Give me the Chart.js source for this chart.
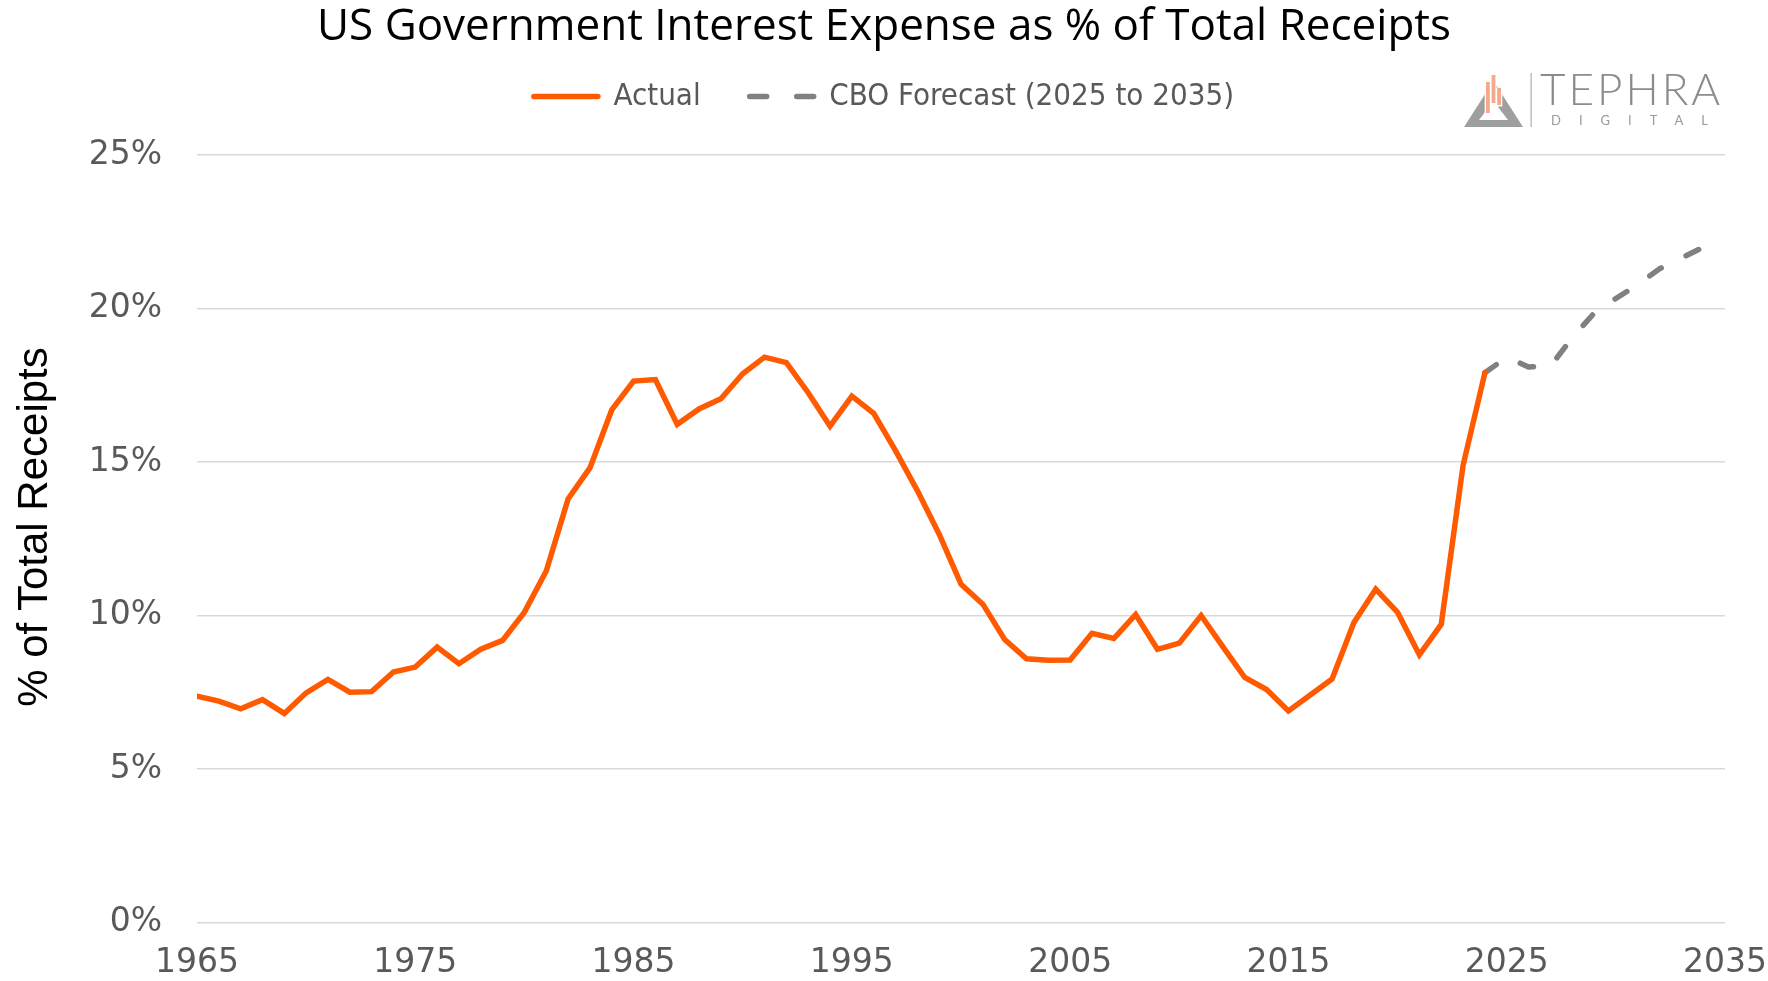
<!DOCTYPE html>
<html>
<head>
<meta charset="utf-8">
<script src="https://cdn.jsdelivr.net/npm/chart.js@4.4.1/dist/chart.umd.min.js"></script>
<style>
html,body{margin:0;padding:0;background:#fff;overflow:hidden}
#wrap{width:1768px;height:981px;position:relative;overflow:hidden}
canvas{display:block}
</style>
</head>
<body>
<div id="wrap"><canvas id="c" width="1768" height="981"></canvas></div>
<script>
// ---- data ----
const actualYears = [1965,1966,1967,1968,1969,1970,1971,1972,1973,1974,1975,1976,1977,1978,1979,
  1980,1981,1982,1983,1984,1985,1986,1987,1988,1989,1990,1991,1992,1993,1994,1995,1996,1997,1998,1999,
  2000,2001,2002,2003,2004,2005,2006,2007,2008,2009,2010,2011,2012,2013,2014,2015,2016,2017,2018,2019,
  2020,2021,2022,2023,2024];
const actualValues = [7.37,7.21,6.96,7.26,6.81,7.48,7.92,7.50,7.52,8.16,8.32,8.97,8.43,8.90,9.19,
  10.11,11.45,13.80,14.81,16.70,17.64,17.69,16.23,16.73,17.06,17.88,18.42,18.24,17.26,16.17,17.15,16.59,15.37,14.07,12.65,
  11.02,10.37,9.22,8.59,8.54,8.55,9.42,9.25,10.03,8.90,9.10,10.00,8.98,7.98,7.59,6.89,7.41,7.93,9.77,10.86,
  10.10,8.72,9.71,14.89,17.91];
const forecastYears = [2024,2025,2026,2027,2028,2029,2030,2031,2032,2033,2034];
const forecastValues = [17.91,18.42,18.10,18.12,19.05,19.85,20.33,20.78,21.30,21.65,22.00];
const xTickYears = [1965,1975,1985,1995,2005,2015,2025,2035];
const yTicks = [0,5,10,15,20,25];
const titleText = 'US Government Interest Expense as % of Total Receipts';
const yTitleText = '% of Total Receipts';
const seriesNames = ['Actual', 'CBO Forecast (2025 to 2035)'];

const ORANGE = '#FF5A00';
const GRAY = '#808080';
const TICK = '#595959';

const decorPlugin = {
  id: 'decor',
  afterDraw(chart) {
    const ctx = chart.ctx;
    ctx.save();
    // y axis title
    ctx.translate(35, 527);
    ctx.rotate(-Math.PI / 2);
    ctx.font = '42px "Liberation Sans", Arial, sans-serif';
    ctx.fillStyle = '#000';
    ctx.textAlign = 'center';
    ctx.textBaseline = 'middle';
    ctx.fillText(yTitleText, 0, 0);
    ctx.restore();

    // logo
    ctx.save();
    ctx.fillStyle = '#9f9f9f';
    ctx.beginPath();
    ctx.moveTo(1464, 127); ctx.lineTo(1523, 127); ctx.lineTo(1493.5, 81); ctx.closePath();
    ctx.moveTo(1479, 120); ctx.lineTo(1508, 120); ctx.lineTo(1493.5, 101); ctx.closePath();
    ctx.fill('evenodd');
    const bars = [[1486, 82, 3.8, 31], [1491.6, 75, 3.8, 28], [1497.2, 88, 3.8, 17]];
    bars.forEach(b => { ctx.fillStyle = '#fff'; ctx.fillRect(b[0]-1.3, b[1], b[2]+2.6, b[3]+1.5); });
    bars.forEach(b => { ctx.fillStyle = '#F5A88A'; ctx.fillRect(b[0], b[1], b[2], b[3]); });
    ctx.fillStyle = '#b5b5b5';
    ctx.fillRect(1530.5, 73, 1.3, 54);
    ctx.fillStyle = '#8c8c8c';
    ctx.font = '300 44px Lato, sans-serif';
    ctx.textBaseline = 'alphabetic';
    ctx.textAlign = 'left';
    try { ctx.letterSpacing = '3px'; } catch (e) {}
    ctx.fillText('TEPHRA', 1540, 105);
    ctx.fillStyle = '#9a9a9a';
    ctx.font = '13px Lato, sans-serif';
    try { ctx.letterSpacing = '18px'; } catch (e) {}
    ctx.fillText('DIGITAL', 1551, 125);
    ctx.restore();
  }
};

const ctx = document.getElementById('c').getContext('2d');
new Chart(ctx, {
  type: 'line',
  data: {
    datasets: [
      {
        label: seriesNames[0],
        data: actualYears.map((x, i) => ({x, y: actualValues[i]})),
        borderColor: ORANGE,
        backgroundColor: ORANGE,
        borderWidth: 5.5,
        pointRadius: 0,
        tension: 0,
        borderCapStyle: 'round',
        borderJoinStyle: 'miter'
      },
      {
        label: seriesNames[1],
        data: forecastYears.map((x, i) => ({x, y: forecastValues[i]})),
        borderColor: GRAY,
        backgroundColor: GRAY,
        borderWidth: 5.5,
        borderDash: [14, 27.7],
        borderCapStyle: 'round',
        pointRadius: 0,
        tension: 0
      }
    ]
  },
  options: {
    responsive: false,
    animation: false,
    devicePixelRatio: 1,
    layout: { padding: { left: 0, right: 0, top: 0, bottom: 0 } },
    plugins: {
      tooltip: { enabled: false },
      title: {
        display: true,
        text: titleText,
        color: '#000',
        font: { family: '"Open Sans", sans-serif', size: 44, weight: 'normal', lineHeight: 1.2 },
        padding: { top: 1, bottom: -21.8 }
      },
      legend: {
        display: true,
        position: 'top',
        labels: {
          color: TICK,
          font: { family: '"DejaVu Sans Condensed", "DejaVu Sans", sans-serif', size: 31 },
          usePointStyle: true,
          pointStyle: 'line',
          pointStyleWidth: 64,
          boxHeight: 10,
          padding: 49,
          sort: (a, b) => a.datasetIndex - b.datasetIndex,
          generateLabels(chart) {
            const items = Chart.defaults.plugins.legend.labels.generateLabels(chart);
            items.forEach(it => {
              it.lineWidth = 5.5;
              it.lineCap = 'round';
              it.pointStyle = 'line';
              it.lineDash = it.datasetIndex === 1 ? [17, 30] : [];
            });
            return items;
          }
        }
      },
      subtitle: {
        display: true,
        text: '',
        weight: 500,
        font: { size: 10, lineHeight: 1 },
        padding: { top: 0, bottom: 23.2 }
      }
    },
    scales: {
      x: {
        type: 'linear',
        min: xTickYears[0],
        max: xTickYears[xTickYears.length - 1],
        afterBuildTicks(scale) { scale.ticks = xTickYears.map(v => ({value: v})); },
        ticks: {
          autoSkip: false,
          maxRotation: 0,
          padding: 21,
          color: TICK,
          font: { family: '"DejaVu Sans", sans-serif', size: 33, lineHeight: 1.2 },
          callback: v => String(v)
        },
        grid: { display: false, drawTicks: false },
        border: { display: false },
        afterFit(scale) { scale.height = 58.6; scale.paddingLeft = 0; scale.paddingRight = 43; }
      },
      y: {
        min: 0,
        max: 25,
        afterBuildTicks(scale) { scale.ticks = yTicks.map(v => ({value: v})); },
        ticks: {
          padding: 35,
          color: TICK,
          font: { family: '"DejaVu Sans", sans-serif', size: 33 },
          callback: v => v + '%'
        },
        grid: { color: '#d9d9d9', lineWidth: 1.5, drawTicks: false },
        border: { display: false },
        afterFit(scale) { scale.width = 197; }
      }
    }
  },
  plugins: [decorPlugin]
});
</script>
</body>
</html>
